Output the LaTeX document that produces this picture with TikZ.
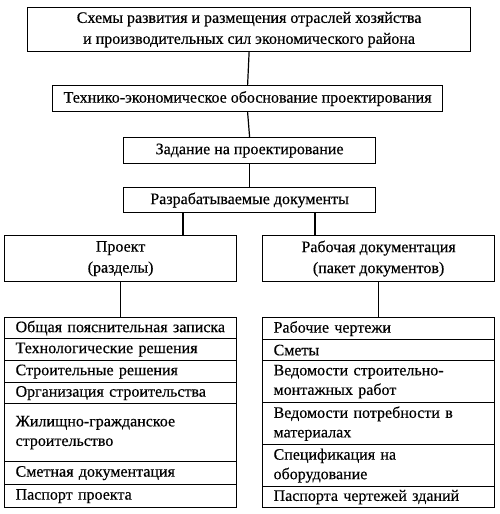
\documentclass[tikz,border=0pt]{standalone}
\usepackage{fontspec}
\setmainfont{Liberation Serif}[FakeBold=0.4]
\begin{document}
\begin{tikzpicture}[x=1pt,y=-1pt,
  box/.style={draw, line width=1.2pt, inner sep=0pt, align=center, anchor=north west, font=\fontsize{16}{21}\selectfont},
  rowL/.style={draw, line width=1.2pt, inner xsep=11pt, inner ysep=0pt, anchor=north west, text width=210pt, align=left, font=\fontsize{16}{19.5}\selectfont},
  link/.style={line width=1.2pt}]
\useasboundingbox (0,0) rectangle (500,514);
\node[box, minimum width=443pt, minimum height=44pt] (top) at (27,7) {Схемы развития и размещения отраслей хозяйства\\и производительных сил экономического района};
\node[box, minimum width=390pt, minimum height=26pt] (teo) at (52,85) {Технико-экономическое обоснование проектирования};
\node[box, minimum width=252pt, minimum height=26pt] (zad) at (123,137) {Задание на проектирование};
\node[box, minimum width=252pt, minimum height=25pt] (doc) at (123,187) {Разрабатываемые документы};
\node[box, minimum width=232pt, minimum height=46pt] (pr) at (4,235) {Проект\\(разделы)};
\node[box, minimum width=232pt, minimum height=46pt] (rd) at (262,235) {Рабочая документация\\(пакет документов)};
% left list
\node[rowL, minimum height=21pt] (l1) at (4,317) {Общая пояснительная записка};
\node[rowL, minimum height=22pt] (l2) at (4,338) {Технологические решения};
\node[rowL, minimum height=22pt] (l3) at (4,360) {Строительные решения};
\node[rowL, minimum height=21pt] (l4) at (4,382) {Организация строительства};
\node[rowL, minimum height=58pt] (l5) at (4,403) {Жилищно-гражданское\\строительство};
\node[rowL, minimum height=23pt] (l6) at (4,461) {Сметная документация};
\node[rowL, minimum height=23pt] (l7) at (4,484) {Паспорт проекта};
% right list
\node[rowL, minimum height=22pt] (r1) at (262,317) {Рабочие чертежи};
\node[rowL, minimum height=21pt] (r2) at (262,339) {Сметы};
\node[rowL, minimum height=42pt] (r3) at (262,360) {Ведомости строительно-\\монтажных работ};
\node[rowL, minimum height=42pt] (r4) at (262,402) {Ведомости потребности в\\материалах};
\node[rowL, minimum height=42pt] (r5) at (262,444) {Спецификация на\\оборудование};
\node[rowL, minimum height=21pt] (r6) at (262,486) {Паспорта чертежей зданий};
\coordinate (cL) at (183,0);
\coordinate (cR) at (315,0);
\draw[link] (top.south) -- (teo.north);
\draw[link] (teo.south) -- (zad.north);
\draw[link] (zad.south) -- (doc.north);
\draw[link] (doc.south -| cL) -- (pr.north -| cL);
\draw[link] (doc.south -| cR) -- (rd.north -| cR);
\draw[link] (pr.south) -- (l1.north -| pr.south);
\draw[link] (rd.south) -- (r1.north -| rd.south);
\end{tikzpicture}
\end{document}
